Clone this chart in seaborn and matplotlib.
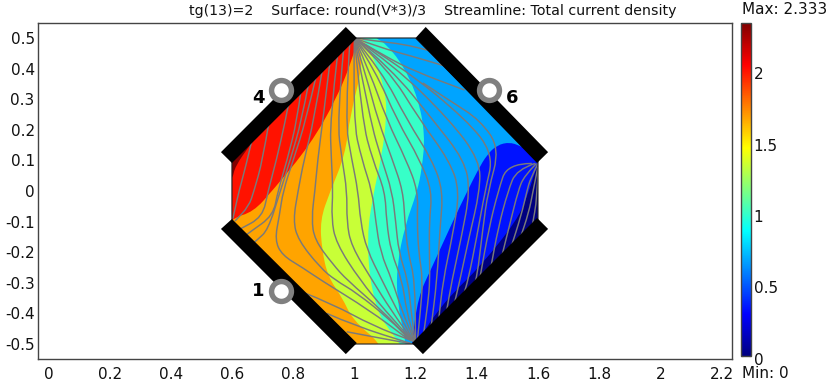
import matplotlib
import matplotlib.pyplot as plt
import pandas as pd
import seaborn as sns
from matplotlib.cm import ScalarMappable
from matplotlib.colors import LinearSegmentedColormap, Normalize
from matplotlib.patches import PathPatch, Polygon
from matplotlib.path import Path
from matplotlib.transforms import ScaledTranslation

matplotlib.use("Agg")

W, H = 830, 387

X_TICKS = [0, 0.2, 0.4, 0.6, 0.8, 1, 1.2, 1.4, 1.6, 1.8, 2, 2.2]
X_TICK_LABELS = ["0", "0.2", "0.4", "0.6", "0.8", "1", "1.2", "1.4", "1.6", "1.8", "2", "2.2"]
Y_TICKS = [0.5, 0.4, 0.3, 0.2, 0.1, 0, -0.1, -0.2, -0.3, -0.4, -0.5]
Y_TICK_LABELS = ["0.5", "0.4", "0.3", "0.2", "0.1", "0", "-0.1", "-0.2", "-0.3", "-0.4", "-0.5"]
CBAR_TICKS = [0, 0.5, 1, 1.5, 2]
CBAR_LABELS = ["0", "0.5", "1", "1.5", "2"]
V_MAX = 2.333

# the classic jet ramp used by the reference
JET_STOPS = [0, 0.125, 0.375, 0.625, 0.875, 1]
JET_COLORS = ["#000080", "#0000ff", "#00ffff", "#ffff00", "#ff0000", "#800000"]

OCTAGON_X = [1.0, 1.2, 1.6, 1.6, 1.2, 1.0, 0.6, 0.6, 1.0]
OCTAGON_Y = [0.5, 0.5, 0.1, -0.1, -0.5, -0.5, -0.1, 0.1, 0.5]

ELECTRODE_4 = [(0.6, 0.0915), (0.564, 0.127), (0.972, 0.536), (1.008, 0.5)]
ELECTRODE_6 = [(1.2, 0.5), (1.233, 0.536), (1.633, 0.127), (1.597, 0.0915)]
ELECTRODE_1 = [(0.6, -0.0915), (0.564, -0.124), (0.972, -0.533), (1.008, -0.497)]
ELECTRODE_R = [(1.597, -0.088), (1.633, -0.124), (1.224, -0.533), (1.188, -0.497)]

RING_X = [0.76, 1.44, 0.76]
RING_Y = [0.33, 0.33, -0.327]
RING_LABELS = ["4", "6", "1"]
RING_LABEL_X = [0.685, 1.515, 0.685]
RING_LABEL_Y = [0.304, 0.304, -0.327]

# surface values, low to high; each boundary separates a level from the next one up
BASE_LEVEL = 0
LEVELS = [1 / 3, 2 / 3, 1, 4 / 3, 5 / 3, 2, 2.333]
BOUNDARY_X = [
    [1.623, 1.599, 1.567, 1.532, 1.41, 1.322, 1.263, 1.231, 1.198],
    [1.57, 1.548, 1.509, 1.466, 1.433, 1.404, 1.368, 1.319, 1.254, 1.208, 1.188, 1.185],
    [1.057, 1.067, 1.10, 1.159, 1.208, 1.231, 1.221, 1.205, 1.166, 1.139, 1.139, 1.166, 1.175],
    [1.012, 1.025, 1.067, 1.10, 1.106, 1.09, 1.058, 1.042, 1.05, 1.08, 1.115, 1.149, 1.182],
    [1.005, 1.012, 1.028, 0.986, 0.97, 0.92, 0.888, 0.894, 0.914, 0.959, 0.995, 1.084, 1.10],
    [1.005, 1.008, 0.995, 0.943, 0.855, 0.734, 0.669, 0.6, 0.495],
    [0.72, 0.66, 0.61, 0.602, 0.58],
]
BOUNDARY_Y = [
    [0.134, 0.092, -0.013, -0.095, -0.248, -0.333, -0.405, -0.454, -0.503],
    [0.135, 0.144, 0.16, 0.15, 0.118, 0.069, -0.003, -0.105, -0.248, -0.346, -0.497, -0.55],
    [0.526, 0.5, 0.484, 0.412, 0.304, 0.183, 0.075, -0.003, -0.111, -0.242, -0.356, -0.487, -0.552],
    [0.526, 0.5, 0.428, 0.33, 0.248, 0.118, -0.029, -0.144, -0.291, -0.405, -0.454, -0.5, -0.552],
    [0.526, 0.487, 0.412, 0.248, 0.118, -0.003, -0.095, -0.193, -0.281, -0.346, -0.422, -0.497, -0.552],
    [0.526, 0.493, 0.435, 0.304, 0.15, 0.003, -0.069, -0.088, -0.193],
    [0.235, 0.152, 0.08, 0.04, 0.02],
]

STREAM_X = [
    [0.665, 0.645, 0.623, 0.612, 0.603],
    [0.72, 0.70, 0.672, 0.655, 0.61],
    [0.785, 0.775, 0.745, 0.718, 0.70, 0.625],
    [0.825, 0.813, 0.78, 0.75, 0.735, 0.659, 0.645],
    [0.85, 0.828, 0.79, 0.758, 0.718, 0.682, 0.67],
    [0.875, 0.842, 0.80, 0.767, 0.755, 0.74, 0.764, 0.83, 0.89, 1.05, 1.17],
    [0.895, 0.868, 0.835, 0.816, 0.80, 0.816, 0.888, 0.937, 1.008, 1.116, 1.18],
    [0.92, 0.897, 0.88, 0.871, 0.86, 0.87, 0.93, 0.976, 1.09, 1.185],
    [0.945, 0.92, 0.925, 0.93, 0.925, 0.94, 1.018, 1.10, 1.19],
    [0.965, 0.943, 0.96, 0.976, 0.975, 0.99, 1.058, 1.12, 1.195],
    [0.985, 0.969, 0.992, 1.012, 1.02, 1.04, 1.09, 1.14, 1.195],
    [1.0, 0.995, 1.025, 1.058, 1.07, 1.085, 1.123, 1.155, 1.2],
    [1.0, 1.025, 1.06, 1.10, 1.105, 1.12, 1.156, 1.17, 1.2],
    [1.0, 1.051, 1.09, 1.123, 1.135, 1.145, 1.175, 1.185, 1.2],
    [1.0, 1.04, 1.077, 1.125, 1.159, 1.165, 1.175, 1.198, 1.2],
    [1.0, 1.05, 1.106, 1.17, 1.208, 1.205, 1.21, 1.224, 1.215, 1.205],
    [1.0, 1.07, 1.139, 1.215, 1.254, 1.245, 1.245, 1.247, 1.24, 1.225],
    [1.0, 1.09, 1.172, 1.255, 1.29, 1.28, 1.27, 1.25],
    [1.0, 1.11, 1.214, 1.31, 1.345, 1.32, 1.29, 1.275],
    [1.0, 1.12, 1.257, 1.36, 1.378, 1.35, 1.319, 1.30],
    [1.0, 1.13, 1.312, 1.41, 1.41, 1.375, 1.345, 1.325],
    [1.0, 1.15, 1.368, 1.455, 1.427, 1.40, 1.372, 1.355],
    [1.224, 1.32, 1.41, 1.475, 1.437, 1.42, 1.40, 1.385],
    [1.0, 1.07, 1.16, 1.24],
    [1.0, 1.08, 1.19, 1.29],
    [1.0, 1.1, 1.2, 1.36],
    [0.83, 0.93, 1.06, 1.19],
    [0.91, 1.0, 1.19],
    [0.975, 1.08, 1.19],
    [1.58, 1.50, 1.47, 1.44, 1.41],
    [1.59, 1.53, 1.502, 1.47, 1.445],
    [1.595, 1.555, 1.535, 1.51, 1.48],
    [1.6, 1.575, 1.564, 1.545, 1.51],
    [1.6, 1.59, 1.584, 1.57, 1.54],
    [1.6, 1.598, 1.58],
]
STREAM_Y = [
    [0.165, 0.08, 0.0, -0.05, -0.09],
    [0.22, 0.1, 0.0, -0.05, -0.098],
    [0.285, 0.232, 0.1, 0.0, -0.085, -0.125],
    [0.325, 0.232, 0.1, 0.0, -0.08, -0.134, -0.145],
    [0.35, 0.232, 0.1, 0.0, -0.127, -0.16, -0.17],
    [0.375, 0.232, 0.1, 0.0, -0.08, -0.16, -0.21, -0.25, -0.291, -0.39, -0.48],
    [0.395, 0.232, 0.1, 0.0, -0.095, -0.16, -0.25, -0.291, -0.333, -0.42, -0.485],
    [0.42, 0.232, 0.1, 0.0, -0.09, -0.16, -0.24, -0.291, -0.39, -0.49],
    [0.445, 0.232, 0.1, 0.0, -0.09, -0.17, -0.291, -0.39, -0.49],
    [0.465, 0.232, 0.1, 0.0, -0.1, -0.18, -0.291, -0.39, -0.495],
    [0.485, 0.232, 0.1, 0.0, -0.1, -0.19, -0.291, -0.39, -0.495],
    [0.5, 0.232, 0.1, 0.0, -0.1, -0.2, -0.291, -0.39, -0.5],
    [0.5, 0.232, 0.1, 0.0, -0.1, -0.2, -0.291, -0.39, -0.5],
    [0.5, 0.232, 0.1, 0.0, -0.1, -0.2, -0.291, -0.39, -0.5],
    [0.5, 0.37, 0.232, 0.1, 0.0, -0.1, -0.2, -0.291, -0.5],
    [0.5, 0.39, 0.232, 0.1, 0.0, -0.1, -0.2, -0.291, -0.4, -0.495],
    [0.5, 0.39, 0.232, 0.1, 0.0, -0.1, -0.2, -0.291, -0.37, -0.475],
    [0.5, 0.39, 0.232, 0.1, 0.0, -0.12, -0.291, -0.45],
    [0.5, 0.40, 0.232, 0.1, 0.0, -0.15, -0.291, -0.425],
    [0.5, 0.40, 0.232, 0.1, 0.0, -0.15, -0.291, -0.40],
    [0.5, 0.41, 0.232, 0.1, 0.0, -0.15, -0.291, -0.375],
    [0.5, 0.41, 0.232, 0.12, 0.0, -0.15, -0.29, -0.345],
    [0.353, 0.29, 0.232, 0.14, 0.0, -0.12, -0.29, -0.315],
    [0.5, 0.49, 0.48, 0.46],
    [0.5, 0.47, 0.44, 0.41],
    [0.5, 0.44, 0.39, 0.33],
    [-0.33, -0.37, -0.44, -0.49],
    [-0.40, -0.44, -0.5],
    [-0.46, -0.48, -0.5],
    [0.09, 0.09, 0.0, -0.12, -0.285],
    [0.09, 0.07, 0.0, -0.12, -0.255],
    [0.09, 0.05, 0.0, -0.1, -0.22],
    [0.09, 0.04, 0.0, -0.08, -0.19],
    [0.08, 0.03, 0.0, -0.07, -0.16],
    [0.07, -0.02, -0.12],
]

# corners used to close a boundary around its upper-left side, well outside the axes
FAR_LEFT, FAR_TOP, FAR_BOTTOM = 0.4, 0.7, -0.7

TEXT_COLOR = "#111111"
FRAME_COLOR = "#444444"
STREAM_COLOR = "#7a7a7a"

sns.set_theme(style="white")
plt.rcParams["font.family"] = "DejaVu Sans"


def smooth_commands(xs, ys):
    # quadratic pieces through midpoints, the read points act as control points
    verts = [(xs[0], ys[0])]
    codes = [Path.MOVETO]
    for i in range(1, len(xs) - 1):
        mid = ((xs[i] + xs[i + 1]) / 2, (ys[i] + ys[i + 1]) / 2)
        verts += [(xs[i], ys[i]), mid]
        codes += [Path.CURVE3, Path.CURVE3]
    verts.append((xs[-1], ys[-1]))
    codes.append(Path.LINETO)
    return verts, codes


def band_path(xs, ys):
    verts, codes = smooth_commands(xs, ys)
    closing = [(xs[-1], FAR_BOTTOM), (FAR_LEFT, FAR_BOTTOM), (FAR_LEFT, FAR_TOP), (xs[0], FAR_TOP), (xs[0], ys[0])]
    return Path(verts + closing, codes + [Path.LINETO] * len(closing))


fig = plt.figure(figsize=(W / 100, H / 100), dpi=100)
ax = fig.add_axes([37.5 / W, 1 - 359 / H, 694.5 / W, 336 / H])
cax = fig.add_axes([741 / W, 1 - 356 / H, 10 / W, 333 / H])

cmap = LinearSegmentedColormap.from_list("classic_jet", list(zip(JET_STOPS, JET_COLORS)), N=512)
norm = Normalize(0, V_MAX)

octagon = Polygon(list(zip(OCTAGON_X, OCTAGON_Y)), closed=True, facecolor=cmap(norm(BASE_LEVEL)), edgecolor="none", zorder=1)
ax.add_patch(octagon)

for level, xs, ys in zip(LEVELS, BOUNDARY_X, BOUNDARY_Y):
    band = PathPatch(band_path(xs, ys), facecolor=cmap(norm(level)), edgecolor="none", zorder=1.5)
    ax.add_patch(band)
    band.set_clip_path(octagon)

for xs, ys in zip(STREAM_X, STREAM_Y):
    verts, codes = smooth_commands(xs, ys)
    line = PathPatch(Path(verts, codes), facecolor="none", edgecolor=STREAM_COLOR, linewidth=1.05, zorder=2)
    ax.add_patch(line)
    line.set_clip_path(octagon)

outline = pd.DataFrame({"x": OCTAGON_X, "y": OCTAGON_Y})
sns.lineplot(data=outline, x="x", y="y", sort=False, estimator=None, color="#222222", linewidth=0.8, ax=ax, zorder=2.5)

for corners in [ELECTRODE_4, ELECTRODE_6, ELECTRODE_1, ELECTRODE_R]:
    ax.add_patch(Polygon(corners, closed=True, facecolor="black", edgecolor="none", zorder=3))

sns.scatterplot(x=RING_X, y=RING_Y, s=205, facecolor="white", edgecolor="#808080", linewidth=3.9, ax=ax, zorder=4, clip_on=False)

for label, x, y in zip(RING_LABELS, RING_LABEL_X, RING_LABEL_Y):
    ax.text(x, y, label, fontsize=13, fontweight="bold", color="black", ha="center", va="center", zorder=5)

ax.set_xlim(-0.0355, 2.234)
ax.set_ylim(-0.549, 0.549)
ax.set_xlabel("")
ax.set_ylabel("")
ax.set_xticks(X_TICKS)
ax.set_xticklabels(X_TICK_LABELS)
ax.set_yticks(Y_TICKS)
ax.set_yticklabels(Y_TICK_LABELS)
ax.tick_params(axis="both", length=0, labelsize=11, labelcolor=TEXT_COLOR)
ax.tick_params(axis="x", pad=6)
ax.tick_params(axis="y", pad=2)
for spine in ax.spines.values():
    spine.set_color(FRAME_COLOR)
    spine.set_linewidth(1.0)

cbar = fig.colorbar(ScalarMappable(norm=norm, cmap=cmap), cax=cax)
cbar.set_ticks(CBAR_TICKS)
cbar.set_ticklabels(CBAR_LABELS)
cax.tick_params(axis="y", left=True, right=True, direction="in", length=1.5, width=0.8, color="#222222", labelsize=11, labelcolor=TEXT_COLOR, pad=2)
cbar.outline.set_edgecolor(FRAME_COLOR)
cbar.outline.set_linewidth(1.0)
for tick_label in cax.get_yticklabels():
    tick_label.set_transform(tick_label.get_transform() + ScaledTranslation(0, -2 / 72, fig.dpi_scale_trans))

fig.text(433 / W, 1 - 11 / H, "tg(13)=2    Surface: round(V*3)/3    Streamline: Total current density", fontsize=10.2, color=TEXT_COLOR, ha="center", va="center")
fig.text(742 / W, 1 - 10 / H, "Max: 2.333", fontsize=11, color=TEXT_COLOR, ha="left", va="center")
fig.text(742 / W, 1 - 374 / H, "Min: 0", fontsize=11, color=TEXT_COLOR, ha="left", va="center")

fig.savefig("out.png", dpi=100)
plt.close(fig)
